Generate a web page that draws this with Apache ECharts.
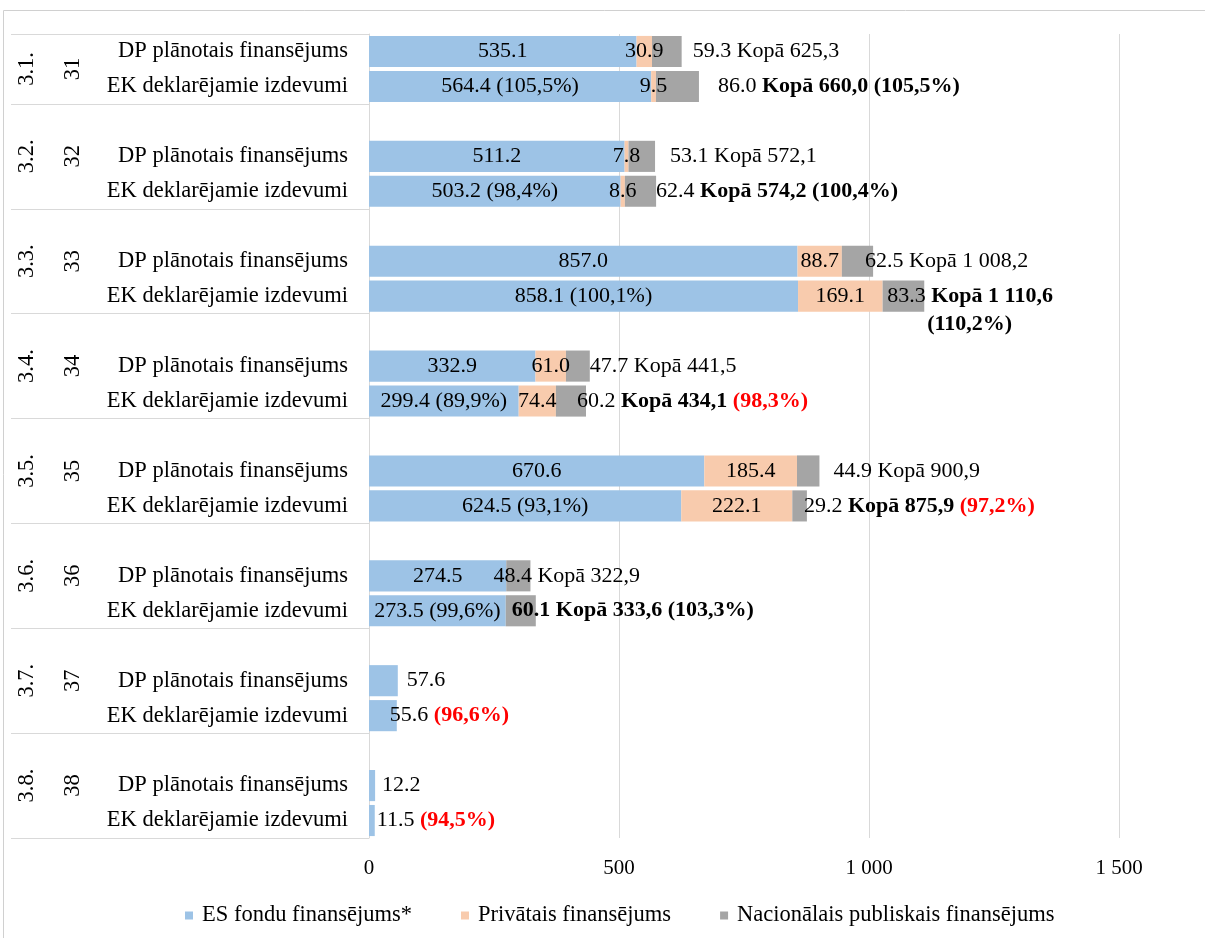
<!DOCTYPE html>
<html>
<head>
<meta charset="utf-8">
<script src="https://cdn.jsdelivr.net/npm/echarts@6/dist/echarts.min.js"></script>
<style>
  html, body { margin: 0; padding: 0; background: #fff; }
  #chart { width: 1205px; height: 938px; }
</style>
</head>
<body>
<div id="chart"></div>
<script>
// ---- data ----
const groupLabels = ['3.1.', '3.2.', '3.3.', '3.4.', '3.5.', '3.6.', '3.7.', '3.8.'];
const groupCodes = ['31', '32', '33', '34', '35', '36', '37', '38'];
const rowNames = ['DP plānotais finansējums', 'EK deklarējamie izdevumi'];
const seriesNames = ['ES fondu finansējums*', 'Privātais finansējums', 'Nacionālais publiskais finansējums'];
const xTicks = [0, 500, 1000, 1500];

const esPlanned = [535.1, 511.2, 857.0, 332.9, 670.6, 274.5, 57.6, 12.2];
const esDeclared = [564.4, 503.2, 858.1, 299.4, 624.5, 273.5, 55.6, 11.5];
const esDeclaredPct = [105.5, 98.4, 100.1, 89.9, 93.1, 99.6, null, null];
const privPlanned = [30.9, 7.8, 88.7, 61.0, 185.4, 0, 0, 0];
const privDeclared = [9.5, 8.6, 169.1, 74.4, 222.1, 0, 0, 0];
const natPlanned = [59.3, 53.1, 62.5, 47.7, 44.9, 48.4, 0, 0];
const natDeclared = [86.0, 62.4, 83.3, 60.2, 29.2, 60.1, 0, 0];
const totalPlanned = ['625,3', '572,1', '1 008,2', '441,5', '900,9', '322,9', null, null];
const totalDeclared = ['660,0', '574,2', '1 110,6', '434,1', '875,9', '333,6', null, null];
const totalDeclaredPct = [105.5, 100.4, 110.2, 98.3, 97.2, 103.3, 96.6, 94.5];

// ---- layout / style ----
const FONT = "'Liberation Serif', 'Times New Roman', serif";
const COLORS = ['#9DC3E6', '#F8CBAD', '#A5A5A5'];
const GRID_COLOR = '#d9d9d9';
// horizontal nudge (px) of the end-of-bar label, per group: [planned, declared]
const endLabelShift = [[11, 19], [15, 0], [-8, -37], [0, -9], [14, -3], [-37, -24], [9, -7], [7, 2]];
const wrapTotalGroups = ['3.3.'];
const boldValueGroups = ['3.6.'];

const num = v => v.toFixed(1);
const pctText = p => '(' + p.toFixed(1).replace('.', ',') + '%)';
const pctRich = p => (p < 100 ? '{r|' : '{b|') + pctText(p) + '}';
const thousands = v => String(v).replace(/\B(?=(\d{3})+(?!\d))/g, ' ');

// slots of the category axis: a spacer row before every group but the first
const slots = [];
groupLabels.forEach((g, gi) => {
  if (gi > 0) slots.push(null);
  slots.push({ g: gi, k: 0 });
  slots.push({ g: gi, k: 1 });
});
const categories = slots.map(s => (s ? rowNames[s.k] : ''));
const groupStart = [];
slots.forEach((s, i) => {
  if (i === 0 || s === null) groupStart.push(i);
});

const baseLabel = { color: '#000', fontSize: 22, fontFamily: FONT };
const rich = {
  b: { fontWeight: 'bold', fontSize: 22, fontFamily: FONT, color: '#000' },
  r: { fontWeight: 'bold', fontSize: 22, fontFamily: FONT, color: '#ff0000' },
  w: { fontWeight: 'bold', fontSize: 22, fontFamily: FONT, color: '#000', padding: [0, 0, 0, 40] }
};

function esItem(s) {
  if (!s) return '-';
  const g = s.g;
  const v = s.k === 0 ? esPlanned[g] : esDeclared[g];
  const onlyEs = natPlanned[g] === 0 && privPlanned[g] === 0;
  let text = num(v);
  if (s.k === 1) {
    text += onlyEs ? ' ' + pctRich(totalDeclaredPct[g]) : ' ' + pctText(esDeclaredPct[g]);
  }
  const label = onlyEs
    ? { show: true, position: 'right', distance: 0, offset: [endLabelShift[g][s.k], 0], formatter: text }
    : { show: true, position: 'inside', formatter: text };
  return { value: v, label };
}

function privItem(s) {
  if (!s) return '-';
  const v = s.k === 0 ? privPlanned[s.g] : privDeclared[s.g];
  return { value: v, label: { show: v > 0, position: 'inside', formatter: num(v) } };
}

function natItem(s) {
  if (!s) return '-';
  const g = s.g;
  const v = s.k === 0 ? natPlanned[g] : natDeclared[g];
  if (v === 0) return { value: 0, label: { show: false } };
  let text;
  let dy = 0;
  if (s.k === 0) {
    text = num(v) + ' Kopā ' + totalPlanned[g];
  } else {
    const p = totalDeclaredPct[g];
    const valuePart = boldValueGroups.includes(groupLabels[g]) ? '{b|' + num(v) + '} ' : num(v) + ' ';
    if (wrapTotalGroups.includes(groupLabels[g])) {
      text = valuePart + '{b|Kopā ' + totalDeclared[g] + '}\n{w|' + pctText(p) + '}';
      dy = 14;
    } else if (p < 100) {
      text = valuePart + '{b|Kopā ' + totalDeclared[g] + '} ' + pctRich(p);
    } else {
      text = valuePart + '{b|Kopā ' + totalDeclared[g] + ' ' + pctText(p) + '}';
    }
  }
  return {
    value: v,
    label: { show: true, position: 'right', distance: 0, offset: [endLabelShift[g][s.k], dy], formatter: text, lineHeight: 28 }
  };
}

const builders = [esItem, privItem, natItem];
const series = seriesNames.map((name, i) => ({
  name,
  type: 'bar',
  stack: 'total',
  barCategoryGap: '11%',
  itemStyle: { color: COLORS[i] },
  label: Object.assign({}, baseLabel, { rich }),
  emphasis: { disabled: true },
  data: slots.map(builders[i])
}));

const chart = echarts.init(document.getElementById('chart'));
chart.setOption({
  animation: false,
  grid: { left: 369, top: 34, width: 750, height: 804, containLabel: false },
  xAxis: {
    type: 'value',
    min: xTicks[0],
    max: xTicks[xTicks.length - 1],
    interval: xTicks[1] - xTicks[0],
    axisLine: { show: false },
    axisTick: { show: false },
    splitLine: { show: true, lineStyle: { color: GRID_COLOR, width: 1 } },
    axisLabel: { margin: 20, color: '#000', fontSize: 21, fontFamily: FONT, formatter: v => thousands(v) }
  },
  yAxis: {
    type: 'category',
    data: categories,
    inverse: true,
    axisLine: { show: true, lineStyle: { color: GRID_COLOR, width: 1 } },
    axisTick: {
      show: true,
      length: 358,
      lineStyle: { color: GRID_COLOR, width: 1 },
      interval: i => groupStart.includes(i)
    },
    axisLabel: { interval: 0, margin: 21, color: '#000', fontSize: 22.5, fontFamily: FONT }
  },
  legend: {
    data: seriesNames,
    left: 180,
    top: 899,
    icon: 'rect',
    itemWidth: 8,
    itemHeight: 8,
    itemGap: 49,
    textStyle: { color: '#000', fontSize: 22.5, fontFamily: FONT, padding: [0, 0, 0, 4] }
  },
  series
});

// Outer frame and the rotated group / code labels of the multi-level category axis
const toY = idx => chart.convertToPixel({ yAxisIndex: 0 }, idx);
const graphics = [{
  type: 'rect',
  silent: true,
  shape: { x: 3.5, y: 10.5, width: 1300, height: 1000 },
  style: { fill: 'none', stroke: '#d0d0d0', lineWidth: 1 }
}];
groupLabels.forEach((g, gi) => {
  const idx = [];
  slots.forEach((s, i) => { if (s && s.g === gi) idx.push(i); });
  const first = gi === 0 ? idx[0] : idx[0] - 1;
  const last = idx[idx.length - 1];
  const y = (toY(first) + toY(last)) / 2;
  [[g, 27], [groupCodes[gi], 73]].forEach(([t, x]) => {
    graphics.push({
      type: 'text',
      silent: true,
      x, y,
      rotation: Math.PI / 2,
      style: {
        text: t, fill: '#000', fontSize: 22.5, fontFamily: FONT,
        align: 'center', verticalAlign: 'middle',
        textAlign: 'center', textVerticalAlign: 'middle'
      }
    });
  });
});
chart.setOption({ graphic: graphics });
</script>
</body>
</html>
